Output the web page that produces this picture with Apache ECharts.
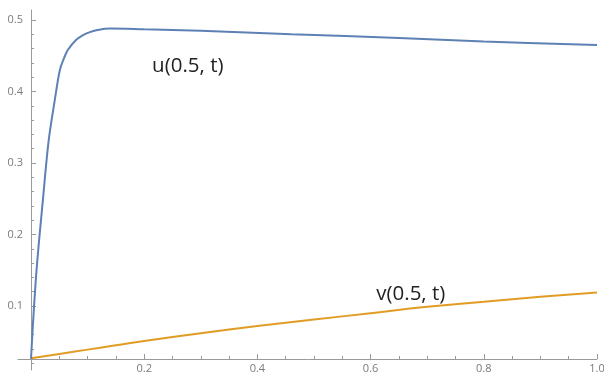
<!DOCTYPE html>
<html>
<head>
<meta charset="utf-8">
<script src="https://cdn.jsdelivr.net/npm/echarts@6/dist/echarts.min.js"></script>
<style>
  html, body { margin: 0; padding: 0; background: #fff; }
  #chart { width: 604px; height: 375px; }
</style>
</head>
<body>
<div id="chart"></div>
<script>
// u(0.5, t) samples
const uT = [0, 0.005, 0.011, 0.021, 0.031, 0.042, 0.051, 0.058, 0.065, 0.0795, 0.092, 0.104, 0.118, 0.14, 0.2, 0.3, 0.46, 0.65, 0.8, 1.0];
const uVal = [0.026, 0.095, 0.162, 0.248, 0.330, 0.388, 0.430, 0.446, 0.458, 0.472, 0.479, 0.483, 0.486, 0.488, 0.487, 0.485, 0.480, 0.475, 0.470, 0.465];

// v(0.5, t)
const vT = [0, 0.05, 0.1, 0.15, 0.2, 0.3, 0.4, 0.5, 0.6, 0.7, 0.8, 0.9, 1.0];
const vVal = [0.027, 0.033, 0.039, 0.045, 0.051, 0.062, 0.072, 0.081, 0.090, 0.099, 0.106, 0.113, 0.119];

const xMajor = [0, 0.2, 0.4, 0.6, 0.8, 1.0];
const xMinor = [0.05, 0.1, 0.15, 0.25, 0.3, 0.35, 0.45, 0.5, 0.55, 0.65, 0.7, 0.75, 0.85, 0.9, 0.95];
const yMajor = [0.1, 0.2, 0.3, 0.4, 0.5];
const yMinor = [0.02, 0.04, 0.06, 0.08, 0.12, 0.14, 0.16, 0.18, 0.22, 0.24, 0.26, 0.28,
                0.32, 0.34, 0.36, 0.38, 0.42, 0.44, 0.46, 0.48];

const uLabel = { text: 'u(0.5, t)', t: 0.277, y: 0.435 };
const vLabel = { text: 'v(0.5, t)', t: 0.671, y: 0.117 };

const zip = (a, b) => a.map((x, i) => [x, b[i]]);

const axisGray = '#9a9a9a';
const labelStyle = { color: '#7a7a7a', fontSize: 11, fontFamily: 'Open Sans' };
const noteStyle = { color: '#222', fontSize: 20.5, fontFamily: 'Open Sans' };

const chart = echarts.init(document.getElementById('chart'));

chart.setOption({
  animation: false,
  grid: [
    // curves + y axis (y axis runs a bit below the x axis, like the original)
    { left: 31, right: 7, top: 10, bottom: 5, outerBoundsMode: 'none' },
    // x axis only, sticks out a little to the left of the y axis
    { left: 18, right: 7, top: 10, bottom: 16, outerBoundsMode: 'none' }
  ],
  xAxis: [
    { gridIndex: 0, type: 'value', min: 0, max: 1,
      axisLine: { show: false }, axisTick: { show: false }, axisLabel: { show: false }, splitLine: { show: false } },
    { gridIndex: 1, type: 'value', min: -0.023, max: 1, position: 'bottom',
      axisLine: { onZero: false, lineStyle: { color: axisGray, width: 1 } },
      axisTick: { inside: true, length: 5, customValues: xMajor, lineStyle: { color: axisGray } },
      axisLabel: { ...labelStyle, margin: 4, customValues: xMajor.slice(1), formatter: v => v.toFixed(1) },
      splitLine: { show: false } },
    { gridIndex: 1, type: 'value', min: -0.023, max: 1, position: 'bottom',
      axisLine: { show: false, onZero: false },
      axisTick: { inside: true, length: 3, customValues: xMinor, lineStyle: { color: axisGray } },
      axisLabel: { show: false }, splitLine: { show: false } }
  ],
  yAxis: [
    { gridIndex: 0, type: 'value', min: 0.0105, max: 0.514, position: 'left',
      axisLine: { onZero: false, lineStyle: { color: axisGray, width: 1 } },
      axisTick: { inside: true, length: 5, customValues: yMajor, lineStyle: { color: axisGray } },
      axisLabel: { ...labelStyle, margin: 8, customValues: yMajor, formatter: v => v.toFixed(1) },
      splitLine: { show: false } },
    { gridIndex: 0, type: 'value', min: 0.0105, max: 0.514, position: 'left',
      axisLine: { show: false, onZero: false },
      axisTick: { inside: true, length: 3, customValues: yMinor, lineStyle: { color: axisGray } },
      axisLabel: { show: false }, splitLine: { show: false } },
    { gridIndex: 1, type: 'value', show: false, min: 0.026, max: 0.514 }
  ],
  series: [
    {
      name: 'u', type: 'line', xAxisIndex: 0, yAxisIndex: 0,
      data: zip(uT, uVal), showSymbol: false, smooth: 0.35,
      lineStyle: { color: '#5e81b5', width: 2 }, z: 5,
      markPoint: {
        symbol: 'circle', symbolSize: 0, silent: true,
        label: { show: true, position: 'inside', formatter: uLabel.text, ...noteStyle },
        data: [{ coord: [uLabel.t, uLabel.y] }]
      }
    },
    {
      name: 'v', type: 'line', xAxisIndex: 0, yAxisIndex: 0,
      data: zip(vT, vVal), showSymbol: false, smooth: 0.5,
      lineStyle: { color: '#e19c24', width: 2 }, z: 4,
      markPoint: {
        symbol: 'circle', symbolSize: 0, silent: true,
        label: { show: true, position: 'inside', formatter: vLabel.text, ...noteStyle },
        data: [{ coord: [vLabel.t, vLabel.y] }]
      }
    }
  ]
});
</script>
</body>
</html>
